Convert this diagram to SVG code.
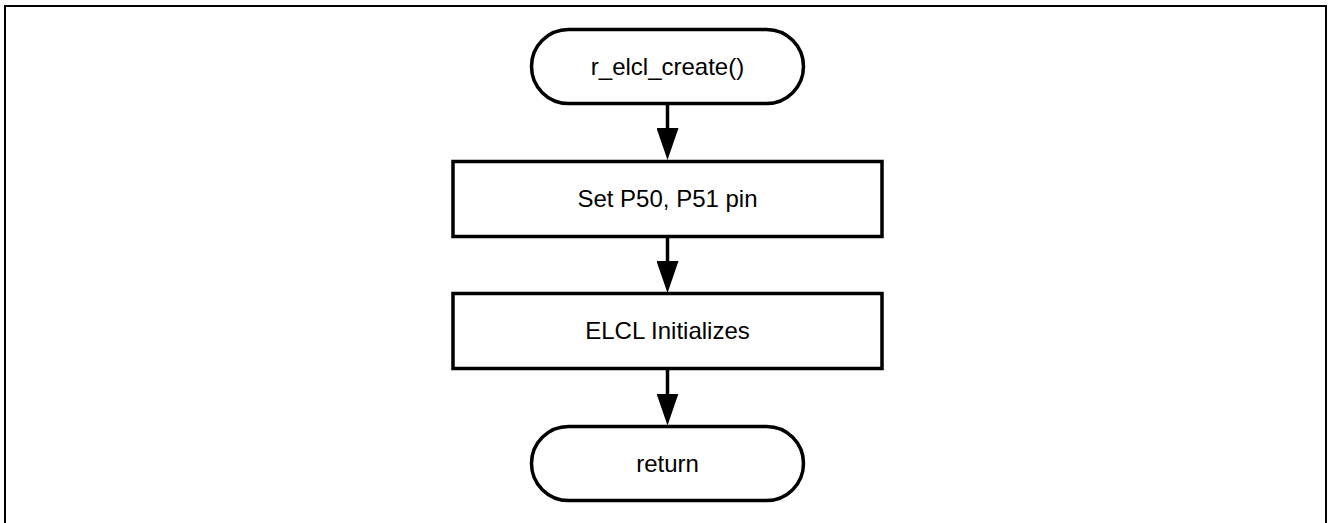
<svg xmlns="http://www.w3.org/2000/svg" width="1328" height="523" viewBox="0 0 1328 523">
  <style>
    .shape { fill: #ffffff; stroke: #000000; stroke-width: 3.5; }
    .frame { fill: #ffffff; stroke: #000000; stroke-width: 2; }
    .label { font-family: "Liberation Sans", Arial, sans-serif; font-size: 24px; fill: #000000; text-anchor: middle; }
    .conn { stroke: #000000; stroke-width: 3.5; fill: none; }
  </style>
  <defs>
    <marker id="arrow" markerUnits="userSpaceOnUse" markerWidth="32" markerHeight="22" viewBox="0 0 32 22" refX="12" refY="11" orient="auto">
      <path d="M0,0 L32,11 L0,22 z" fill="#000000"/>
    </marker>
  </defs>
  <rect class="frame" x="5" y="6" width="1321" height="520"/>
  <g id="connectors">
    <line class="conn" x1="667.5" y1="104" x2="667.5" y2="140" marker-end="url(#arrow)"/>
    <line class="conn" x1="667.5" y1="237" x2="667.5" y2="273" marker-end="url(#arrow)"/>
    <line class="conn" x1="667.5" y1="369" x2="667.5" y2="405.5" marker-end="url(#arrow)"/>
  </g>
  <g id="start">
    <rect class="shape" x="531.5" y="29.5" width="272" height="74" rx="37" ry="37"/>
    <text class="label" x="667.5" y="75">r_elcl_create()</text>
  </g>
  <g id="set-pins">
    <rect class="shape" x="453" y="161.5" width="429" height="75"/>
    <text class="label" x="667.5" y="207">Set P50, P51 pin</text>
  </g>
  <g id="elcl-init">
    <rect class="shape" x="453" y="293.5" width="429" height="75"/>
    <text class="label" x="667.5" y="339">ELCL Initializes</text>
  </g>
  <g id="return">
    <rect class="shape" x="531.5" y="426.5" width="272" height="74" rx="37" ry="37"/>
    <text class="label" x="667.5" y="472">return</text>
  </g>
</svg>
